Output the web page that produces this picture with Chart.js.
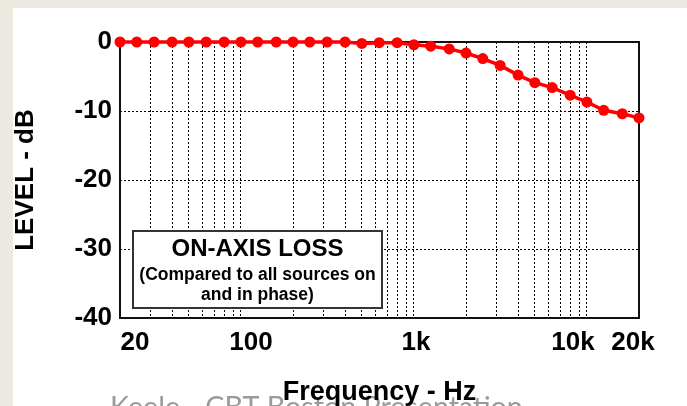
<!DOCTYPE html>
<html>
<head>
<meta charset="utf-8">
<script src="https://cdn.jsdelivr.net/npm/chart.js@4"></script>
<style>
html,body{margin:0;padding:0;background:#ECEAE0;}
canvas{display:block;}
</style>
</head>
<body>
<canvas id="lossChart" width="687" height="406"></canvas>
<script>
// third-octave points
const frequencies = [20, 25, 31.5, 40, 50, 63, 80, 100, 125, 160, 200, 250, 315, 400, 500, 630, 800,
  1000, 1250, 1600, 2000, 2500, 3150, 4000, 5000, 6300, 8000, 10000, 12500, 16000, 20000];
const levels = [0, 0, 0, 0, 0, 0, 0, 0, 0, 0, 0, 0, 0, 0, -0.2, -0.1, -0.1,
  -0.4, -0.6, -1.0, -1.6, -2.4, -3.4, -4.8, -5.9, -6.6, -7.7, -8.7, -9.9, -10.4, -11.0];

const xGridValues = [30, 40, 50, 60, 70, 80, 90, 100, 200, 300, 400, 500, 600, 700, 800, 900,
  1000, 2000, 3000, 4000, 5000, 6000, 7000, 8000, 9000, 10000];
const xTickValues = [20, 100, 1000, 10000, 20000];
const xTickLabels = ["20", "100", "1k", "10k", "20k"];

const noteTitle = "ON-AXIS LOSS";
const noteLines = ["(Compared to all sources on", "and in phase)"];
const footerText = "Keele - CBT Boston Presentation";

const boldFont = "'Liberation Sans', Arial, sans-serif";

const decor = {
  id: "decor",
  beforeDraw(chart) {
    const {ctx, width, height} = chart;
    ctx.save();
    ctx.fillStyle = "#ECEAE0";
    ctx.fillRect(0, 0, width, height);
    ctx.fillStyle = "#FFFFFF";
    ctx.fillRect(13, 8, width - 13, height - 8);
    ctx.restore();
  },
  beforeDatasetsDraw(chart) {
    const {ctx, chartArea: a} = chart;
    ctx.save();
    ctx.strokeStyle = "#111";
    ctx.lineWidth = 2;
    ctx.strokeRect(a.left, a.top, a.right - a.left, a.bottom - a.top);
    ctx.restore();
  },
  afterDatasetsDraw(chart) {
    const {ctx} = chart;
    const x = chart.scales.x, y = chart.scales.y;
    // note box, placed in axis units
    const l = Math.round(x.getPixelForValue(23.9)), r = Math.round(x.getPixelForValue(656));
    const t = Math.round(y.getPixelForValue(-27.35)), b = Math.round(y.getPixelForValue(-38.55));
    ctx.save();
    ctx.fillStyle = "#FFFFFF";
    ctx.fillRect(l, t, r - l, b - t);
    ctx.strokeStyle = "#333";
    ctx.lineWidth = 2;
    ctx.strokeRect(l, t, r - l, b - t);
    const cx = (l + r) / 2;
    ctx.fillStyle = "#000";
    ctx.textAlign = "center";
    ctx.textBaseline = "middle";
    ctx.font = "bold 24px " + boldFont;
    ctx.fillText(noteTitle, cx, t + 18);
    ctx.font = "bold 17.5px " + boldFont;
    ctx.fillText(noteLines[0], cx, t + 44);
    ctx.fillText(noteLines[1], cx, t + 64);
    ctx.restore();
  },
  afterDraw(chart) {
    const {ctx, chartArea: a} = chart;
    const x = chart.scales.x;
    ctx.save();
    // x tick labels (slightly nudged like the original)
    const nudge = [15, 10, 2, -14, -6];
    ctx.fillStyle = "#000";
    ctx.font = "bold 26px " + boldFont;
    ctx.textAlign = "center";
    ctx.textBaseline = "middle";
    xTickValues.forEach((v, i) => {
      ctx.fillText(xTickLabels[i], x.getPixelForValue(v) + nudge[i], a.bottom + 25);
    });

    // footer slide text, behind the axis title
    ctx.font = "28px Lato, 'Open Sans', sans-serif";
    const fw = ctx.measureText(footerText).width;
    const fs = 28 * 413 / fw;
    ctx.font = fs + "px Lato, 'Open Sans', sans-serif";
    ctx.fillStyle = "#9A9A9A";
    ctx.textBaseline = "alphabetic";
    ctx.textAlign = "left";
    ctx.fillText(footerText, 110, 396 + fs * 0.72);

    // axis titles
    ctx.fillStyle = "#000";
    ctx.font = "bold 27px " + boldFont;
    ctx.textAlign = "center";
    ctx.fillText("Frequency - Hz", (a.left + a.right) / 2, 400);

    ctx.translate(26, (a.top + a.bottom) / 2);
    ctx.rotate(-Math.PI / 2);
    ctx.textBaseline = "middle";
    ctx.font = "bold 26px " + boldFont;
    ctx.fillText("LEVEL - dB", 0, 0);
    ctx.restore();
  }
};

new Chart(document.getElementById("lossChart"), {
  type: "line",
  data: {
    datasets: [{
      data: frequencies.map((f, i) => ({x: f, y: levels[i]})),
      borderColor: "#FF0000",
      backgroundColor: "#FF0000",
      borderWidth: 3.5,
      pointRadius: 5.5,
      pointHoverRadius: 5.5,
      pointBorderWidth: 0,
      pointBackgroundColor: "#FF0000",
      tension: 0,
      clip: false
    }]
  },
  options: {
    responsive: false,
    animation: false,
    devicePixelRatio: 1,
    layout: {padding: {top: 42, right: 48, left: 0, bottom: 0}},
    plugins: {legend: {display: false}, tooltip: {enabled: false}},
    scales: {
      x: {
        type: "logarithmic",
        min: 20,
        max: 20000,
        afterBuildTicks: (axis) => { axis.ticks = xGridValues.map(v => ({value: v})); },
        afterFit: (axis) => { axis.height = 88; },
        ticks: {display: false},
        grid: {color: "#000", lineWidth: 1, drawTicks: false},
        border: {display: false, dash: [2, 2]}
      },
      y: {
        min: -40,
        max: 0,
        afterFit: (axis) => { axis.width = 120; },
        ticks: {
          stepSize: 10,
          padding: 8,
          color: "#000",
          font: {family: boldFont, size: 26, weight: "bold"}
        },
        grid: {color: "#000", lineWidth: 1, drawTicks: false},
        border: {display: false, dash: [2, 2]}
      }
    }
  },
  plugins: [decor]
});
</script>
</body>
</html>
